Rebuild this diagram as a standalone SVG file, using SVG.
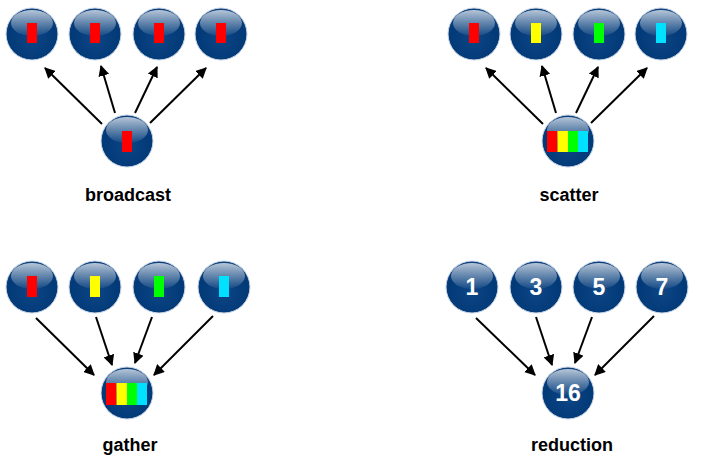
<svg xmlns="http://www.w3.org/2000/svg" width="703" height="468" viewBox="0 0 703 468">
<defs>
<radialGradient id="ball" cx="0.5" cy="0.6" r="0.55">
<stop offset="0" stop-color="#0d4585"/>
<stop offset="0.85" stop-color="#023a78"/>
<stop offset="1" stop-color="#0b3f7c"/>
</radialGradient>
<linearGradient id="gloss" x1="0" y1="0" x2="0" y2="1">
<stop offset="0" stop-color="#ffffff" stop-opacity="0.7"/>
<stop offset="1" stop-color="#ffffff" stop-opacity="0.05"/>
</linearGradient>
<g id="sphere">
<circle r="26" fill="url(#ball)" stroke="#c9d6e6" stroke-width="1"/>
<ellipse cx="0" cy="-11" rx="21" ry="13" fill="url(#gloss)"/>
</g>
<marker id="arr" viewBox="0 0 10 10" refX="9" refY="5" markerWidth="5.5" markerHeight="5.5" orient="auto" markerUnits="strokeWidth">
<path d="M0,0 L10,5 L0,10 z" fill="#000"/>
</marker>
</defs>
<style>
.lbl{font-family:"Liberation Sans",Arial,sans-serif;font-weight:bold;font-size:18px;fill:#000;text-anchor:middle}
.num{font-family:"Liberation Sans",Arial,sans-serif;font-weight:bold;font-size:23px;fill:#fff;text-anchor:middle}
.c line{stroke:#000;stroke-width:2;marker-end:url(#arr)}
</style>
<g class="c" id="connectors">
<line x1="102" y1="124" x2="45" y2="68"/>
<line x1="115" y1="113" x2="101" y2="66"/>
<line x1="135" y1="113" x2="157" y2="67"/>
<line x1="150" y1="123" x2="206" y2="68"/>
<line x1="543" y1="124" x2="486" y2="68"/>
<line x1="556" y1="113" x2="542" y2="66"/>
<line x1="576" y1="113" x2="598" y2="67"/>
<line x1="591" y1="123" x2="647" y2="68"/>
<line x1="36" y1="318" x2="94" y2="375"/>
<line x1="96" y1="317" x2="112" y2="365"/>
<line x1="152" y1="317" x2="135" y2="363"/>
<line x1="213" y1="316" x2="154" y2="375"/>
<line x1="476" y1="318" x2="535" y2="375"/>
<line x1="536" y1="317" x2="552" y2="365"/>
<line x1="592" y1="317" x2="575" y2="363"/>
<line x1="654" y1="316" x2="595" y2="375"/>
</g>
<g id="broadcast">
<g id="b1"><use href="#sphere" x="32" y="34"/><rect x="27" y="23" width="10" height="20" fill="#ff0000"/></g>
<g id="b2"><use href="#sphere" x="95" y="34"/><rect x="90" y="23" width="10" height="20" fill="#ff0000"/></g>
<g id="b3"><use href="#sphere" x="159" y="34"/><rect x="154" y="23" width="10" height="20" fill="#ff0000"/></g>
<g id="b4"><use href="#sphere" x="221" y="34"/><rect x="216" y="23" width="10" height="20" fill="#ff0000"/></g>
<g id="b0"><use href="#sphere" x="127" y="141"/><rect x="122" y="131" width="10" height="21" fill="#ff0000"/></g>
<text class="lbl" x="128" y="201">broadcast</text>
</g>
<g id="scatter">
<g id="s1"><use href="#sphere" x="474" y="34"/><rect x="469" y="23" width="10" height="20" fill="#ff0000"/></g>
<g id="s2"><use href="#sphere" x="536" y="34"/><rect x="531" y="23" width="10" height="20" fill="#ffff00"/></g>
<g id="s3"><use href="#sphere" x="599" y="34"/><rect x="594" y="23" width="10" height="20" fill="#00ff00"/></g>
<g id="s4"><use href="#sphere" x="661" y="34"/><rect x="656" y="23" width="10" height="20" fill="#00e0ff"/></g>
<g id="s0"><use href="#sphere" x="568" y="141"/>
<rect x="547" y="131" width="10.5" height="21" fill="#ff0000"/><rect x="557.5" y="131" width="10.5" height="21" fill="#ffff00"/><rect x="568" y="131" width="10" height="21" fill="#00ff00"/><rect x="578" y="131" width="10" height="21" fill="#00e0ff"/></g>
<text class="lbl" x="569" y="201">scatter</text>
</g>
<g id="gather">
<g id="g1"><use href="#sphere" x="32" y="287"/><rect x="27" y="276" width="10" height="21" fill="#ff0000"/></g>
<g id="g2"><use href="#sphere" x="95" y="287"/><rect x="90" y="276" width="10" height="21" fill="#ffff00"/></g>
<g id="g3"><use href="#sphere" x="159" y="287"/><rect x="154" y="276" width="10" height="21" fill="#00ff00"/></g>
<g id="g4"><use href="#sphere" x="224" y="287"/><rect x="219" y="276" width="10" height="21" fill="#00e0ff"/></g>
<g id="g0"><use href="#sphere" x="127" y="393"/>
<rect x="106" y="383" width="10.5" height="22" fill="#ff0000"/><rect x="116.5" y="383" width="10.5" height="22" fill="#ffff00"/><rect x="127" y="383" width="10" height="22" fill="#00ff00"/><rect x="137" y="383" width="10" height="22" fill="#00e0ff"/></g>
<text class="lbl" x="130" y="451">gather</text>
</g>
<g id="reduction">
<g id="r1"><use href="#sphere" x="472" y="287"/><text class="num" x="472" y="295">1</text></g>
<g id="r2"><use href="#sphere" x="536" y="287"/><text class="num" x="536" y="295">3</text></g>
<g id="r3"><use href="#sphere" x="599" y="287"/><text class="num" x="599" y="295">5</text></g>
<g id="r4"><use href="#sphere" x="662" y="287"/><text class="num" x="662" y="295">7</text></g>
<g id="r0"><use href="#sphere" x="568" y="393"/><text class="num" x="568" y="401">16</text></g>
<text class="lbl" x="572" y="451">reduction</text>
</g>
</svg>
